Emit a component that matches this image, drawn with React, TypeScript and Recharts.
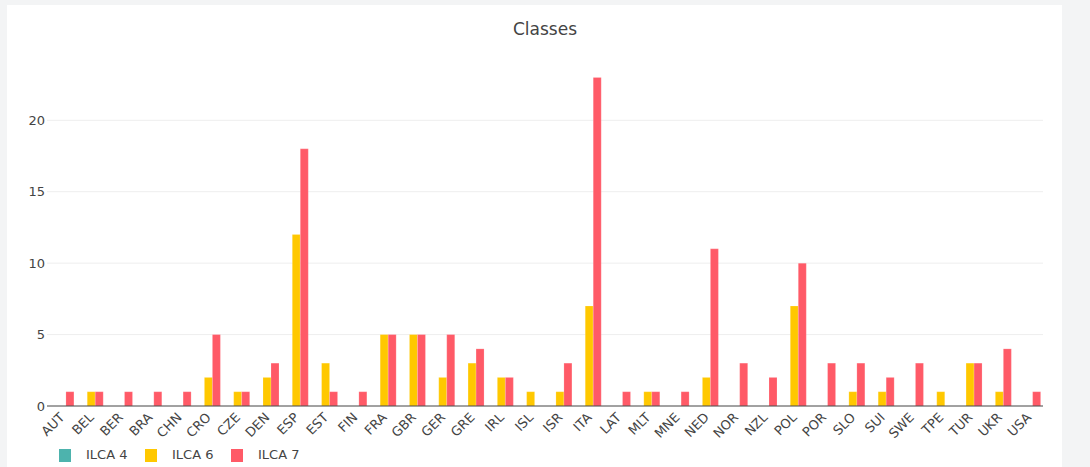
import React from "react";
import { BarChart, Bar, XAxis, YAxis, CartesianGrid, Legend } from "recharts";

const countries = ["AUT","BEL","BER","BRA","CHN","CRO","CZE","DEN","ESP","EST","FIN","FRA","GBR","GER","GRE","IRL","ISL","ISR","ITA","LAT","MLT","MNE","NED","NOR","NZL","POL","POR","SLO","SUI","SWE","TPE","TUR","UKR","USA"];
const ilca4 = countries.map(() => 0);
const ilca6 = [0,1,0,0,0,2,1,2,12,3,0,5,5,2,3,2,1,1,7,0,1,0,2,0,0,7,0,1,1,0,1,3,1,0];
const ilca7 = [1,1,1,1,1,5,1,3,18,1,1,5,5,5,4,2,0,3,23,1,1,1,11,3,2,10,3,3,2,3,0,3,4,1];
const yTicks = [0, 5, 10, 15, 20];
const gridValues = [5, 10, 15, 20];
const seriesNames = ["ILCA 4", "ILCA 6", "ILCA 7"];
const colors = ["#4db3ad", "#ffc800", "#ff5a67"];

const data = countries.map((c, i) => ({ name: c, ilca4: ilca4[i], ilca6: ilca6[i], ilca7: ilca7[i] }));

const FONT = "'DejaVu Sans', Verdana, sans-serif";

const XTick = (props: any) => {
  const { x, y, payload } = props;
  return (
    <g transform={`translate(${x + 0.5},${y + 9})`}>
      <text transform="rotate(-45)" textAnchor="end" fill="#444" fontSize={13} fontFamily={FONT} dy="0.35em">
        {payload.value}
      </text>
    </g>
  );
};

const LegendContent = (props: any) => {
  const { payload } = props;
  return (
    <div style={{ display: "flex", fontFamily: FONT, fontSize: 13, color: "#444", lineHeight: "16px" }}>
      {payload.map((p: any, i: number) => (
        <div key={i} style={{ display: "flex", alignItems: "center", width: 86, flex: "0 0 86px" }}>
          <div style={{ width: 12, height: 13, background: p.color, marginRight: 15, flex: "0 0 12px" }} />
          <span style={{ whiteSpace: "nowrap" }}>{p.value}</span>
        </div>
      ))}
    </div>
  );
};

export default function App() {
  return (
    <div style={{ position: "absolute", left: 0, top: 0, width: 1090, height: 467, background: "#f3f4f5", overflow: "hidden" }}>
      <div style={{ position: "absolute", left: 7, top: 5, width: 1055, height: 470, background: "#ffffff" }} />
      <div style={{ position: "absolute", left: 0, top: 19, width: 1090, textAlign: "center", fontFamily: FONT, fontSize: 17, color: "#444" }}>
        Classes
      </div>
      <div style={{ position: "absolute", left: 0, top: 0 }}>
        <BarChart
          width={1090}
          height={467}
          data={data}
          margin={{ top: 61, right: 47, left: 0, bottom: 0 }}
          barGap={0}
          barCategoryGap="10%"
        >
          <CartesianGrid horizontal={true} vertical={false} stroke="#eeeeee" horizontalValues={gridValues} />
          <XAxis
            dataKey="name"
            interval={0}
            height={61}
            tickLine={false}
            tickSize={0}
            tickMargin={0}
            axisLine={{ stroke: "#444", strokeWidth: 1 }}
            tick={<XTick />}
          />
          <YAxis
            width={47}
            domain={[0, 24.15]}
            ticks={yTicks}
            tickLine={false}
            axisLine={false}
            tickSize={0}
            tickMargin={2}
            tick={{ fill: "#444", fontSize: 13, fontFamily: FONT }}
          />
          <Legend
            layout="horizontal"
            verticalAlign="middle"
            align="center"
            wrapperStyle={{ position: "absolute", left: 59, top: 447, width: 300, height: 16 }}
            content={<LegendContent />}
          />
          <Bar dataKey="ilca4" name={seriesNames[0]} fill={colors[0]} isAnimationActive={false} />
          <Bar dataKey="ilca6" name={seriesNames[1]} fill={colors[1]} stroke="#ffffff" strokeOpacity={0.35} strokeWidth={0.5} isAnimationActive={false} />
          <Bar dataKey="ilca7" name={seriesNames[2]} fill={colors[2]} stroke="#ffffff" strokeOpacity={0.35} strokeWidth={0.5} isAnimationActive={false} />
        </BarChart>
      </div>
    </div>
  );
}
